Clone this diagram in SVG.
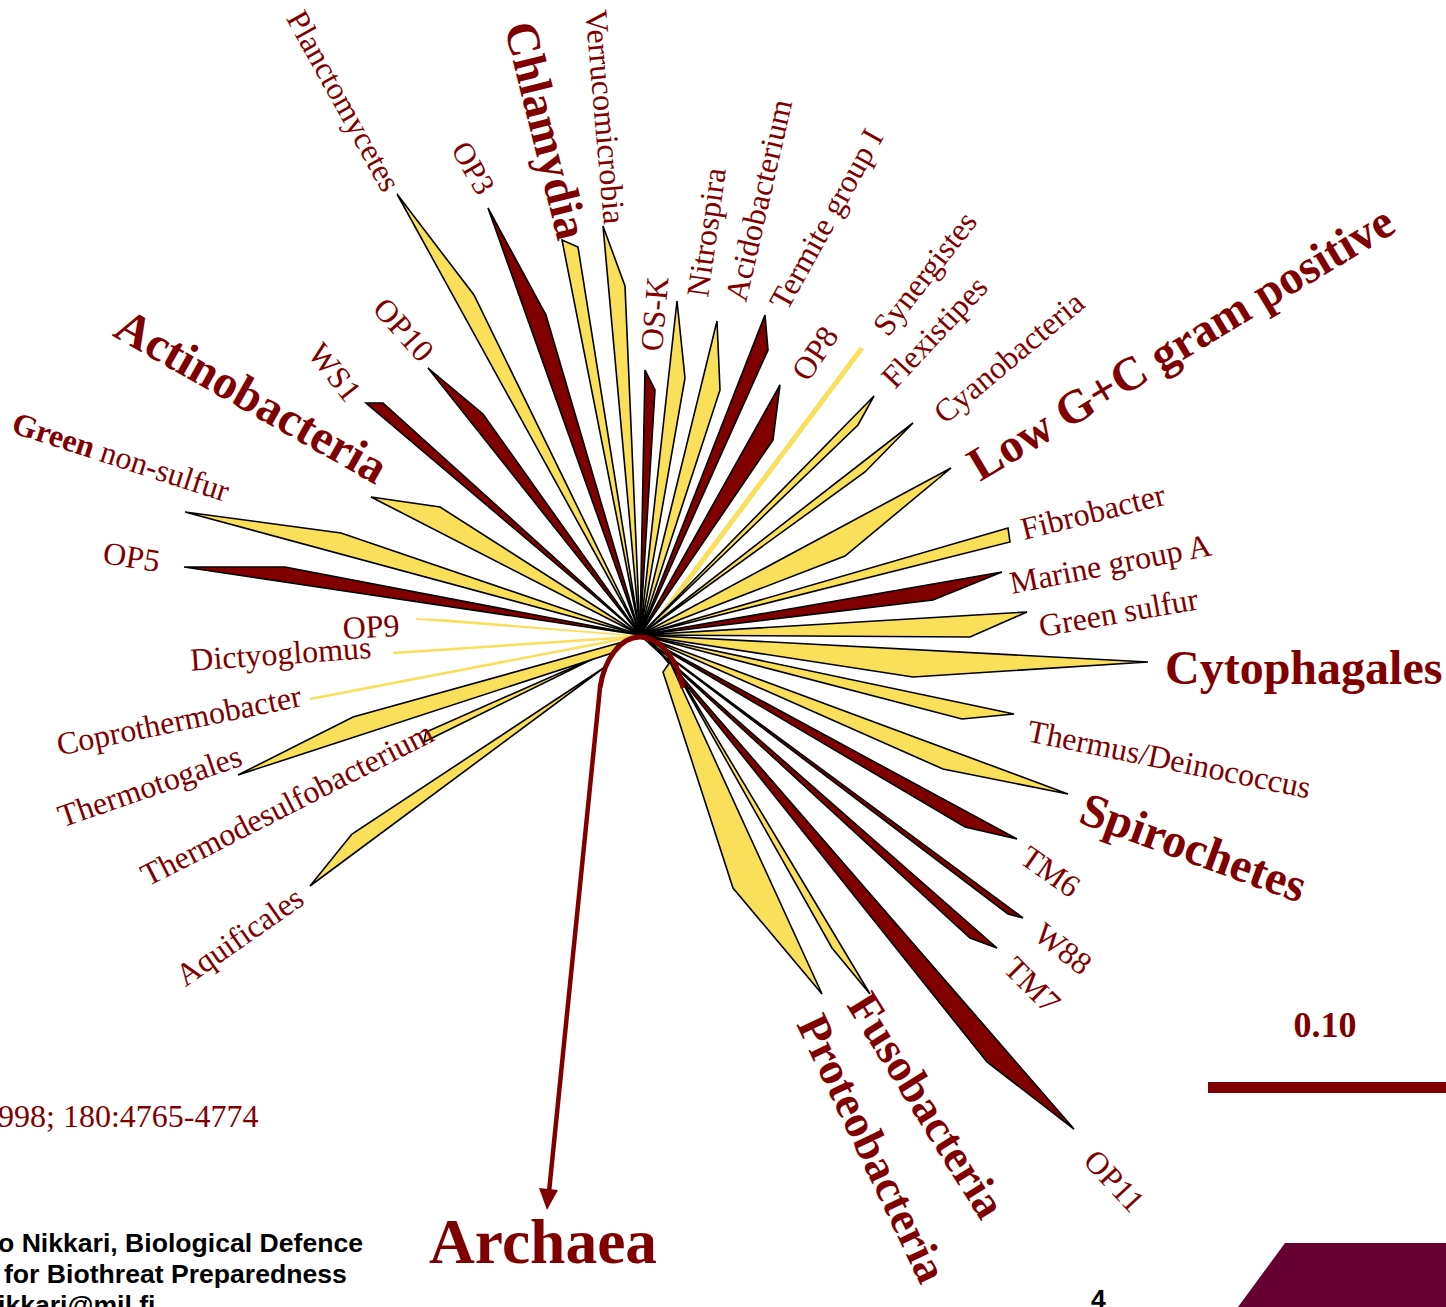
<svg xmlns="http://www.w3.org/2000/svg" width="1446" height="1307" viewBox="0 0 1446 1307">
<style>
.y{fill:#F9DF5A;stroke:#000;stroke-width:1.6;stroke-linejoin:miter}
.r{fill:#800000;stroke:#000;stroke-width:1.6;stroke-linejoin:miter}
.yl{fill:#F9DF5A;stroke:#F9DF5A;stroke-width:2.5}
.t{font-family:"Liberation Serif","Times New Roman",serif;fill:#800000;font-size:32px}
.b{font-weight:bold}
.s{font-family:"Liberation Sans",Arial,sans-serif;font-weight:bold;fill:#000;font-size:26.6px}
</style>
<rect width="1446" height="1307" fill="#fff"/>
<g id="nodes">
<g id="aquificales"><polygon class="y" points="605,667 352,834 310,886"/><text class="t" text-anchor="end" transform="translate(306,903) rotate(-35)">Aquificales</text></g>
<g id="thermodesulfobacterium"><polygon class="y" points="603,654 426,732 424,742"/><text class="t" text-anchor="end" transform="translate(436,740) rotate(-27)">Thermodesulfobacterium</text></g>
<g id="thermotogales"><polygon class="y" points="619,643 353,717 238,775 612,653"/><text class="t" text-anchor="end" transform="translate(244,765) rotate(-19)">Thermotogales</text></g>
<g id="coprothermobacter"><line class="yl" x1="310" y1="699" x2="628" y2="638"/><text class="t" text-anchor="end" transform="translate(303,706) rotate(-11.5)">Coprothermobacter</text></g>
<g id="dictyoglomus"><line class="yl" x1="393" y1="653" x2="632" y2="637"/><text class="t" text-anchor="end" transform="translate(372,658) rotate(-4)">Dictyoglomus</text></g>
<g id="op9"><polygon class="yl" style="stroke-width:1.5" points="416,619 446,620 638,636"/><text class="t" text-anchor="end" transform="translate(400,636) rotate(-3)">OP9</text></g>
<g id="op5"><polygon class="r" points="640,635 285,567 184,567"/><text class="t" text-anchor="end" transform="translate(158,572) rotate(9)">OP5</text></g>
<g id="green-non-sulfur"><polygon class="y" points="640,635 341,533 185,512"/><text class="t" text-anchor="end" transform="translate(225,502) rotate(18)"><tspan class="b">Green</tspan> non-sulfur</text></g>
<g id="actinobacteria"><polygon class="y" points="640,635 440,507 371,497"/><text class="t b" style="font-size:48px" text-anchor="end" transform="translate(376,485) rotate(29.5)">Actinobacteria</text></g>
<g id="ws1"><polygon class="r" points="366,403 383,403 640,635"/><text class="t" text-anchor="end" transform="translate(346,404) rotate(52)">WS1</text></g>
<g id="op10"><polygon class="r" points="428,368 483,414 640,635"/><text class="t" text-anchor="end" transform="translate(420,364) rotate(48)">OP10</text></g>
<g id="planctomycetes"><polygon class="y" points="397,194 474,295 640,635"/><text class="t" text-anchor="end" transform="translate(383,194) rotate(61)">Planctomycetes</text></g>
<g id="op3"><polygon class="r" points="488,208 546,315 640,635"/><text class="t" style="font-size:31px" text-anchor="end" transform="translate(478,197) rotate(60)">OP3</text></g>
<g id="chlamydia"><polygon class="y" points="562,240 578,247 640,635"/><text class="t b" style="font-size:47px" text-anchor="end" transform="translate(558,242) rotate(76)">Chlamydia</text></g>
<g id="verrucomicrobia"><polygon class="y" points="603,226 625,286 640,635"/><text class="t" text-anchor="end" transform="translate(604,225) rotate(85)">Verrucomicrobia</text></g>
<g id="os-k"><polygon class="r" points="645,370 655,390 640,635"/><text class="t" transform="translate(662,352) rotate(-85)">OS-K</text></g>
<g id="nitrospira"><polygon class="y" points="677,301 685,378 640,635"/><text class="t" transform="translate(708,298) rotate(-82)">Nitrospira</text></g>
<g id="acidobacterium"><polygon class="y" points="717,321 720,390 640,635"/><text class="t" transform="translate(746,303) rotate(-77)">Acidobacterium</text></g>
<g id="termite-group-i"><polygon class="r" points="765,315 768,350 640,635"/><text class="t" transform="translate(787,312) rotate(-61)">Termite group I</text></g>
<g id="op8"><polygon class="r" points="780,385 773,440 640,635"/><text class="t" transform="translate(808,383) rotate(-56)">OP8</text></g>
<g id="synergistes"><line x1="862" y1="348" x2="658" y2="620" stroke="#F9DF5A" stroke-width="5"/><text class="t" transform="translate(888,338) rotate(-52)">Synergistes</text></g>
<g id="flexistipes"><polygon class="y" points="874,396 858,425 640,635"/><text class="t" transform="translate(895,390) rotate(-47)">Flexistipes</text></g>
<g id="cyanobacteria"><polygon class="y" points="913,423 865,472 640,635"/><text class="t" transform="translate(945,425) rotate(-40)">Cyanobacteria</text></g>
<g id="low-gc"><polygon class="y" points="951,468 845,556 640,635"/><text class="t b" style="font-size:47.5px" transform="translate(980,482) rotate(-31)">Low G+C gram positive</text></g>
<g id="fibrobacter"><polygon class="y" points="1008,528 1010,542 640,635"/><text class="t" transform="translate(1024,540) rotate(-14)">Fibrobacter</text></g>
<g id="marine-group-a"><polygon class="r" points="1002,572 933,600 640,635"/><text class="t" transform="translate(1012,594) rotate(-11)">Marine group A</text></g>
<g id="green-sulfur"><polygon class="y" points="1027,612 970,637 640,635"/><text class="t" transform="translate(1041,637) rotate(-10)">Green sulfur</text></g>
<g id="cytophagales"><polygon class="y" points="1148,662 913,677 640,635"/><text class="t b" style="font-size:48px" x="1165" y="684">Cytophagales</text></g>
<g id="thermus"><polygon class="y" points="1014,714 962,719 640,635"/><text class="t" transform="translate(1026,741) rotate(11.5)">Thermus/Deinococcus</text></g>
<g id="spirochetes"><polygon class="y" points="1068,794 943,769 640,635"/><text class="t b" style="font-size:48px" transform="translate(1077,822) rotate(20)">Spirochetes</text></g>
<g id="tm6"><polygon class="r" points="1017,839 965,827 640,635"/><text class="t" transform="translate(1018,862) rotate(35)">TM6</text></g>
<g id="w88"><polygon class="r" points="1023,918 1008,914 640,635"/><text class="t" transform="translate(1032,938) rotate(38)">W88</text></g>
<g id="tm7"><polygon class="r" points="997,948 970,938 640,635"/><text class="t" transform="translate(1002,970) rotate(45)">TM7</text></g>
<g id="op11"><polygon class="r" points="1074,1129 987,1062 650,640"/><text class="t" transform="translate(1082,1162) rotate(47)">OP11</text></g>
<g id="fusobacteria"><polygon class="y" points="870,994 832,948 664,650"/><text class="t b" style="font-size:46px" transform="translate(846,1005) rotate(58)">Fusobacteria</text></g>
<g id="proteobacteria"><polygon class="y" points="663,672 733,888 822,994 670,662"/><text class="t b" style="font-size:46px" transform="translate(796,1024) rotate(64.5)">Proteobacteria</text></g>
</g>
<g id="connectors">
<path d="M600,688 C604,660 620,637 640,637 C660,637 678,660 683,688" fill="none" stroke="#800000" stroke-width="5"/>
<line x1="600" y1="688" x2="549" y2="1192" stroke="#800000" stroke-width="4.5"/>
<polygon points="539,1188 558,1190 547,1210" fill="#800000"/>
</g>
<g id="archaea"><text class="t b" style="font-size:63.5px" x="429" y="1263">Archaea</text></g>
<g id="scale-bar"><text class="t b" style="font-size:36px" text-anchor="middle" x="1325" y="1037">0.10</text><rect x="1208" y="1082" width="238" height="11" fill="#800000"/></g>
<g id="footer">
<text class="t" x="-2" y="1127">998; 180:4765-4774</text>
<text class="s" x="-2" y="1252">o Nikkari, Biological Defence</text>
<text class="s" x="4" y="1283"> for Biothreat Preparedness</text>
<text class="s" x="-2" y="1314">ikkari@mil.fi</text>
<text class="s" x="1091" y="1308">4</text>
<polygon points="1285,1243 1446,1243 1446,1307 1238,1307" fill="#660033"/>
</g>
</svg>
